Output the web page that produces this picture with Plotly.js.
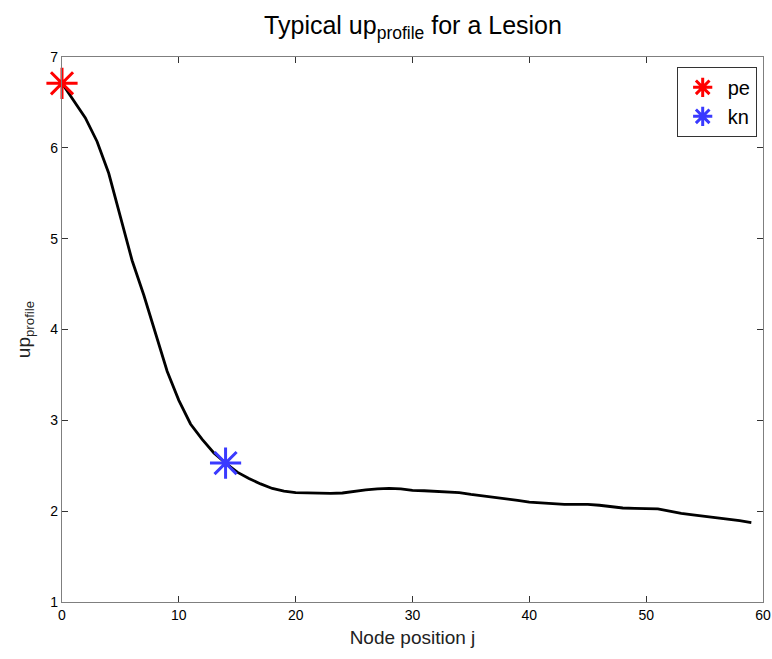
<!DOCTYPE html>
<html>
<head>
<meta charset="utf-8">
<script src="https://cdn.plot.ly/plotly-3.0.1.min.js"></script>
<style>html,body{margin:0;padding:0;background:#fff;}#chart{width:772px;height:659px;}</style>
</head>
<body>
<div id="chart"></div>
<script>
// Node positions and profile values
const nodes = [];
for (let i = 0; i <= 59; i++) nodes.push(i);
const upProfile = [
  6.71, 6.52, 6.33, 6.07, 5.72, 5.24, 4.76, 4.38, 3.95, 3.54,
  3.22, 2.96, 2.79, 2.64, 2.53, 2.43, 2.36, 2.30, 2.25, 2.22,
  2.205, 2.20, 2.195, 2.195, 2.20, 2.22, 2.235, 2.245, 2.25, 2.245,
  2.23, 2.225, 2.22, 2.21, 2.205, 2.185, 2.17, 2.15, 2.135, 2.12,
  2.10, 2.09, 2.08, 2.075, 2.075, 2.075, 2.065, 2.05, 2.035, 2.03,
  2.025, 2.025, 2.00, 1.975, 1.96, 1.945, 1.93, 1.915, 1.895, 1.875
];
const peX = [0], peY = [6.71];
const knX = [14], knY = [2.53];
const xTicks = [0, 10, 20, 30, 40, 50, 60];
const yTicks = [1, 2, 3, 4, 5, 6, 7];

const font = "Liberation Sans Narrow, Liberation Sans, Arial, sans-serif";

const traces = [
  {x: nodes, y: upProfile, mode: 'lines', line: {color: '#000', width: 2.8}, showlegend: false, hoverinfo: 'skip'},
  {x: peX, y: peY, mode: 'markers', name: 'pe', cliponaxis: false,
   marker: {symbol: 'asterisk-open', size: 26, color: '#ff0000', line: {color: '#ff0000', width: 3}}},
  {x: knX, y: knY, mode: 'markers', name: 'kn', cliponaxis: false,
   marker: {symbol: 'asterisk-open', size: 26, color: '#3a3aff', line: {color: '#3a3aff', width: 3}}}
];

const axisCommon = {
  showgrid: false, zeroline: false, showline: true, mirror: 'ticks',
  linecolor: '#7f7f7f', linewidth: 1.2, ticks: 'inside', ticklen: 6, tickcolor: '#333',
  tickfont: {family: font, size: 14, color: '#000'}
};

const layout = {
  width: 772, height: 659,
  margin: {l: 62, r: 9, t: 57, b: 57},
  paper_bgcolor: '#fff', plot_bgcolor: '#fff',
  title: {text: 'Typical up<sub>profile</sub> for a Lesion', x: 0.535, xanchor: 'center', y: 0.975, yanchor: 'top',
          font: {family: font, size: 25, color: '#000'}},
  xaxis: Object.assign({}, axisCommon, {range: [0, 60], tickvals: xTicks, ticktext: xTicks.map(String),
          title: {text: 'Node position j', font: {family: font, size: 19, color: '#222'}, standoff: 8}}),
  yaxis: Object.assign({}, axisCommon, {range: [1, 7], tickvals: yTicks, ticktext: yTicks.map(String),
          title: {text: 'up<sub>profile</sub>', font: {family: font, size: 19, color: '#222'}, standoff: 14}}),
  legend: {x: 0.991, xanchor: 'right', y: 0.982, yanchor: 'top', bgcolor: '#fff',
           bordercolor: '#333', borderwidth: 1, font: {family: font, size: 20, color: '#000'},
           tracegroupgap: 0, itemwidth: 40},
  showlegend: true
};

Plotly.newPlot('chart', traces, layout, {staticPlot: true, displayModeBar: false});
</script>
</body>
</html>
